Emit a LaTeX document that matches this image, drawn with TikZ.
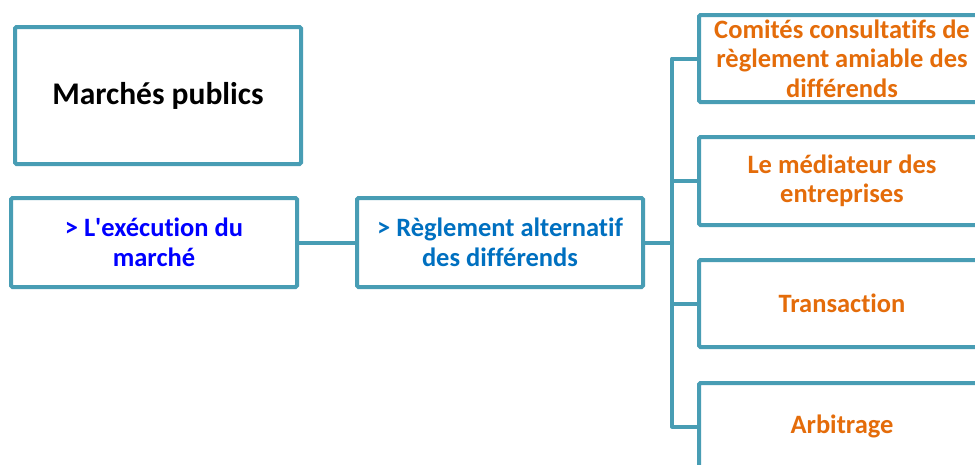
\documentclass[tikz,border=0pt]{standalone}
\usepackage{fontspec}
\setmainfont{Carlito}[Ligatures={NoCommon}]
\definecolor{teal}{RGB}{72,157,180}
\definecolor{orng}{RGB}{228,108,10}
\definecolor{blu}{RGB}{0,0,255}
\definecolor{mblue}{RGB}{0,112,192}
\begin{document}
\begin{tikzpicture}[x=1pt,y=-1pt,
  box/.style={draw=teal,line width=4pt,rounded corners=1.5pt,minimum width=286pt,inner sep=0pt,align=center,font=\bfseries\fontsize{26.5}{29.5}\selectfont},
  link/.style={draw=teal,line width=4pt,line cap=round,line join=round}]
\useasboundingbox (0,0) rectangle (975,464);
\clip (0,0) rectangle (975,464);
\fill[white] (0,0) rectangle (975,464);
\node[box,minimum height=137pt,font=\bfseries\fontsize{31.5}{36}\selectfont] (mp) at (158,95.5) {Marchés publics};
\node[box,minimum height=89pt,text=blu] (ex) at (154,242.5) {> L\textquotesingle exécution du\\marché};
\node[box,minimum height=89pt,text=mblue] (ra) at (500,242.5) {> Règlement alternatif\\des différends};
\node[box,minimum height=87pt,text=orng] (c1) at (842,58.5) {Comités consultatifs de\\règlement amiable des\\différends};
\node[box,minimum height=88pt,text=orng] (c2) at (842,181) {Le médiateur des\\entreprises};
\node[box,minimum height=87pt,text=orng] (c3) at (842,303.5) {Transaction};
\node[box,minimum height=87pt,text=orng] (c4) at (842,426.5) {Arbitrage};
\coordinate (t) at (672,242.5);
\draw[link] (ex.east) -- (ra.west);
\draw[link] (ra.east) -- (t);
\draw[link] (c1.west) -| (t) |- (c4.west);
\draw[link] (t |- c2.west) -- (c2.west);
\draw[link] (t |- c3.west) -- (c3.west);
\end{tikzpicture}
\end{document}
